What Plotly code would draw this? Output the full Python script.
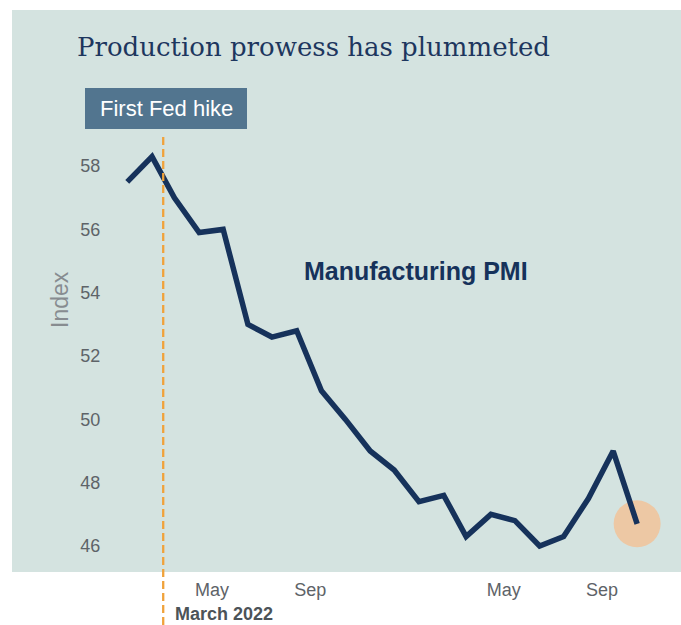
import plotly.graph_objects as go

# Monthly ISM manufacturing PMI, Jan 2022 - Oct 2023 (plotted mid-month)
months = [
    "2022-01-15", "2022-02-15", "2022-03-15", "2022-04-15", "2022-05-15", "2022-06-15",
    "2022-07-15", "2022-08-15", "2022-09-15", "2022-10-15", "2022-11-15", "2022-12-15",
    "2023-01-15", "2023-02-15", "2023-03-15", "2023-04-15", "2023-05-15", "2023-06-15",
    "2023-07-15", "2023-08-15", "2023-09-15", "2023-10-15",
]
pmi = [
    57.5, 58.3, 57.0, 55.9, 56.0, 53.0,
    52.6, 52.8, 50.9, 50.0, 49.0, 48.4,
    47.4, 47.6, 46.3, 47.0, 46.8, 46.0,
    46.3, 47.5, 49.0, 46.7,
]
x_tickvals = ["2022-05-01", "2022-09-01", "2023-05-01", "2023-09-01"]
x_ticktext = ["May", "Sep", "May", "Sep"]
y_tickvals = [46, 48, 50, 52, 54, 56, 58]
fed_hike_date = "2022-03-01"

W, H = 681, 625
ML, MR, MT, MB = 110, 0, 10, 53
PW, PH = W - ML - MR, H - MT - MB


def px_x(px):
    return (px - ML) / PW


def px_y(py):
    return (H - MB - py) / PH


PANEL = "#D4E3E0"
NAVY = "#16325B"
GRAY = "#5E6368"

fig = go.Figure()

# highlight behind the latest reading
fig.add_trace(go.Scatter(
    x=[months[-1]], y=[pmi[-1]], mode="markers",
    marker=dict(size=47, color="#EDC8A4", line=dict(width=0)),
    hoverinfo="skip", showlegend=False,
))
fig.add_trace(go.Scatter(
    x=months, y=pmi, mode="lines",
    line=dict(color=NAVY, width=5.5),
    name="Manufacturing PMI", showlegend=False,
))

shapes = [
    # panel background extending past the tick labels
    dict(type="rect", xref="paper", yref="paper",
         x0=px_x(12), x1=1, y0=0, y1=1,
         fillcolor=PANEL, line=dict(width=0), layer="below"),
    # first Fed hike marker
    dict(type="line", xref="x", yref="paper",
         x0=fed_hike_date, x1=fed_hike_date, y0=px_y(625), y1=px_y(133),
         line=dict(color="#F0A23B", width=2.3, dash="8px,4px"), layer="above"),
    dict(type="rect", xref="paper", yref="paper",
         x0=px_x(85), x1=px_x(247), y0=px_y(129), y1=px_y(88),
         fillcolor="#52758F", line=dict(width=0), layer="above"),
]

annotations = [
    dict(text="Production prowess has plummeted", xref="paper", yref="paper",
         x=px_x(75), y=px_y(47), xanchor="left", yanchor="middle", showarrow=False,
         font=dict(family="DejaVu Serif", size=26, color="#1D365E")),
    dict(text="First Fed hike", xref="paper", yref="paper",
         x=px_x(166), y=px_y(108.5), xanchor="center", yanchor="middle", showarrow=False,
         font=dict(family="Liberation Sans, Arial", size=22, color="white")),
    dict(text="<b>Manufacturing PMI</b>", xref="paper", yref="paper",
         x=px_x(416), y=px_y(271), xanchor="center", yanchor="middle", showarrow=False,
         font=dict(family="Liberation Sans, Arial", size=25, color=NAVY)),
    dict(text="Index", xref="paper", yref="paper", textangle=-90,
         x=px_x(60), y=px_y(300), xanchor="center", yanchor="middle", showarrow=False,
         font=dict(family="Liberation Sans, Arial", size=23, color="#878C90")),
    dict(text="<b>March 2022</b>", xref="paper", yref="paper",
         x=px_x(173), y=px_y(614), xanchor="left", yanchor="middle", showarrow=False,
         font=dict(family="Liberation Sans, Arial", size=18, color="#4C5358")),
]

fig.update_layout(
    width=W, height=H,
    margin=dict(l=ML, r=MR, t=MT, b=MB, pad=0),
    paper_bgcolor="white", plot_bgcolor=PANEL,
    shapes=shapes, annotations=annotations,
    showlegend=False,
    xaxis=dict(
        type="date", range=["2021-12-24 10:00", "2023-12-08 21:00"],
        tickvals=x_tickvals, ticktext=x_ticktext,
        showgrid=False, zeroline=False, showline=False,
        ticks="outside", ticklen=1, tickcolor="rgba(0,0,0,0)",
        tickfont=dict(family="Liberation Sans, Arial", size=18, color=GRAY),
    ),
    yaxis=dict(
        range=[45.179, 62.93], tickvals=y_tickvals,
        showgrid=False, zeroline=False, showline=False,
        ticks="outside", ticklen=5, tickcolor="rgba(0,0,0,0)",
        tickfont=dict(family="Liberation Sans, Arial", size=18, color=GRAY),
    ),
)

fig.write_html("out.html")
